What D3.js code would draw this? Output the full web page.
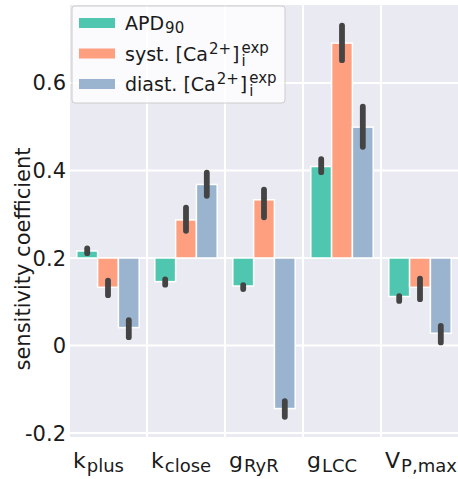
<!DOCTYPE html>
<html><head><meta charset="utf-8">
<script src="https://cdn.jsdelivr.net/npm/d3@7"></script>
<style>
body{margin:0;background:#fff;}
svg{display:block;font-family:"DejaVu Sans",sans-serif;}
</style></head>
<body><svg id="c" width="458" height="479"></svg>
<script>
// ---- data ----
const categories = ["k_plus","k_close","g_RyR","g_LCC","V_P,max"];
const tickBase = ["k","k","g","g","V"];
const tickSub = ["plus","close","RyR","LCC","P,max"];
const seriesNames = ["APD90","syst","diast"];
const apd   = [0.216, 0.146, 0.136, 0.409, 0.112];
const syst  = [0.133, 0.287, 0.333, 0.691, 0.133];
const diast = [0.041, 0.368, -0.144, 0.499, 0.028];
const apdLo   = [0.211, 0.139, 0.129, 0.396, 0.102];
const apdHi   = [0.222, 0.151, 0.138, 0.426, 0.113];
const systLo  = [0.115, 0.262, 0.293, 0.652, 0.106];
const systHi  = [0.148, 0.315, 0.356, 0.731, 0.153];
const diastLo = [0.019, 0.342, -0.163, 0.454, 0.007];
const diastHi = [0.058, 0.395, -0.127, 0.546, 0.045];
const yTicks = [-0.2, 0, 0.2, 0.4, 0.6];
const yTickLabels = ["-0.2","0","0.2","0.4","0.6"];
const baseline = 0.2;

const colors = ["#4fc6b0","#fea080","#9ab4cf"];
const values = [apd, syst, diast];
const los = [apdLo, systLo, diastLo];
const his = [apdHi, systHi, diastHi];

const svg = d3.select("#c");
const L = 70, R = 458, T = 5, B = 437;
const x = d3.scaleBand().domain(categories).range([69, 459]).paddingInner(0).paddingOuter(0);
const y = d3.scaleLinear().domain([-0.209, 0.778]).range([B, T]);
const xs = d3.scaleBand().domain(seriesNames).range([0, x.bandwidth()*0.8]);

svg.append("rect").attr("x",L).attr("y",T).attr("width",R-L).attr("height",B-T).attr("fill","#eaeaf2");

const grid = svg.append("g");
grid.selectAll("line.h").data(yTicks).join("line")
  .attr("x1",L).attr("x2",R).attr("y1",d=>y(d)).attr("y2",d=>y(d))
  .attr("stroke","#fff").attr("stroke-width",2);
const bounds = categories.slice(1).map(c=>x(c));
grid.selectAll("line.v").data(bounds).join("line")
  .attr("x1",d=>d).attr("x2",d=>d).attr("y1",T).attr("y2",B)
  .attr("stroke","#fff").attr("stroke-width",2);

// bars
const gb = svg.append("g");
values.forEach((vals,si)=>{
  categories.forEach((c,ci)=>{
    const x0 = x(c) + x.bandwidth()*0.1 + xs(seriesNames[si]);
    const v = vals[ci];
    gb.append("rect")
      .attr("x", x0).attr("width", xs.bandwidth())
      .attr("y", y(Math.max(v,baseline)))
      .attr("height", Math.abs(y(v)-y(baseline)))
      .attr("fill", colors[si]).attr("stroke","#fff").attr("stroke-width",1.5);
  });
});
// error bars
values.forEach((vals,si)=>{
  categories.forEach((c,ci)=>{
    const xc = x(c) + x.bandwidth()*0.1 + xs(seriesNames[si]) + xs.bandwidth()/2;
    gb.append("line").attr("x1",xc).attr("x2",xc)
      .attr("y1",y(los[si][ci])).attr("y2",y(his[si][ci]))
      .attr("stroke","#444444").attr("stroke-width",5.8).attr("stroke-linecap","round");
  });
});

// y tick labels
svg.append("g").selectAll("text").data(yTicks).join("text")
  .attr("x",66).attr("y",d=>y(d)).attr("dy","0.36em")
  .attr("text-anchor","end").attr("font-size",21).attr("fill","#1a1a1a")
  .text((d,i)=>yTickLabels[i]);

// y label
svg.append("text").attr("transform","translate(30,259) rotate(-90)")
  .attr("text-anchor","middle").attr("font-size",21).attr("fill","#1a1a1a")
  .text("sensitivity coefficient");

// rich text helper: one text element, tspans with absolute positions
function rich(g, x0, yb, parts){
  const t = g.append("text").attr("fill","#1a1a1a");
  let cx = x0, prevX = x0, prevW = 0;
  parts.forEach(p=>{
    const sx = p.stack ? prevX : cx + (p.dx||0);
    const ts = t.append("tspan").attr("x",sx).attr("y",yb + p.dy)
      .attr("font-size",p.size).text(p.t);
    const w = ts.node().getComputedTextLength();
    if(p.stack){ cx = Math.max(prevX + prevW, sx + w); }
    else { prevX = sx; prevW = w; cx = sx + w; }
  });
}

// x tick labels
const gx = svg.append("g");
categories.forEach((c,i)=>{
  rich(gx, x(c)+4, 468, [{t:tickBase[i],size:22,dy:0},{t:tickSub[i],size:18,dy:4,dx:1}]);
});

// legend
const lg = svg.append("g");
lg.append("rect").attr("x",72).attr("y",6).attr("width",213).attr("height",97)
  .attr("rx",3).attr("fill","#fff").attr("fill-opacity",0.8)
  .attr("stroke","#cccccc").attr("stroke-width",1);
const M = 19, S = 15;
const legendParts = [
  [{t:"APD",size:M,dy:0},{t:"90",size:S,dy:3,dx:1}],
  [{t:"syst. [Ca",size:M,dy:0},{t:"2+",size:S,dy:-7,dx:1},{t:"]",size:M,dy:0,dx:1},{t:"i",size:S,dy:5,dx:2},{t:"exp",size:S,dy:-8,stack:true}],
  [{t:"diast. [Ca",size:M,dy:0},{t:"2+",size:S,dy:-7,dx:1},{t:"]",size:M,dy:0,dx:1},{t:"i",size:S,dy:5,dx:2},{t:"exp",size:S,dy:-8,stack:true}]
];
seriesNames.forEach((s,i)=>{
  const cy = 23 + i*30.5;
  lg.append("rect").attr("x",79).attr("y",cy-5).attr("width",36).attr("height",10).attr("fill",colors[i]);
  rich(lg, 125, cy+7, legendParts[i]);
});
</script></body></html>
